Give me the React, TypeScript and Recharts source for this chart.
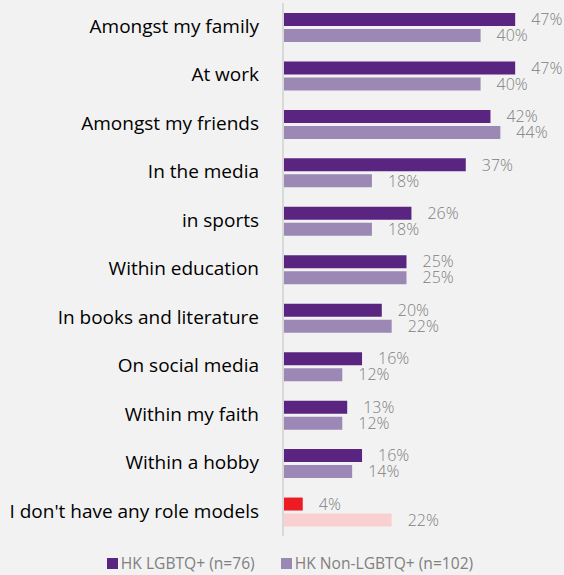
import { BarChart, Bar, XAxis, YAxis, Legend, LabelList, Cell } from "recharts";

document.body.style.margin = "0";

const categories = [
  "Amongst my family",
  "At work",
  "Amongst my friends",
  "In the media",
  "in sports",
  "Within education",
  "In books and literature",
  "On social media",
  "Within my faith",
  "Within a hobby",
  "I don't have any role models",
];
const lgbtq = [47, 47, 42, 37, 26, 25, 20, 16, 13, 16, 4];
const nonLgbtq = [40, 40, 44, 18, 18, 25, 22, 12, 12, 14, 22];

const seriesNames = ["HK LGBTQ+ (n=76)", "HK Non-LGBTQ+ (n=102)"];
const DARK = "#5a2580";
const LIGHT = "#9c88b5";
const NONE_DARK = "#ed1c24";
const NONE_LIGHT = "#f8d0d2";

const data = categories.map((name, i) => ({ name, lgbtq: lgbtq[i], non: nonLgbtq[i] }));

const font = "'Open Sans', Lato, sans-serif";

function LegendContent() {
  const items = [
    { label: seriesNames[0], color: DARK },
    { label: seriesNames[1], color: LIGHT },
  ];
  return (
    <div style={{ display: "flex", justifyContent: "center", gap: 26, paddingLeft: 50, fontFamily: font, fontSize: 15.6, color: "#808080" }}>
      {items.map((it) => (
        <div key={it.label} style={{ display: "flex", alignItems: "center", gap: 3 }}>
          <div style={{ width: 11, height: 11, background: it.color }} />
          <span>{it.label}</span>
        </div>
      ))}
    </div>
  );
}

const valueStyle = { fill: "#808080", fontSize: 16, fontFamily: font, fontWeight: 300 };

export default function App() {
  return (
    <div style={{ width: 564, height: 575, background: "#f2f2f2" }}>
      <BarChart
        width={564}
        height={575}
        data={data}
        layout="vertical"
        margin={{ top: 3, right: 34, bottom: 17, left: 0 }}
        barGap={3}
        barCategoryGap={10}
      >
        <XAxis type="number" domain={[0, 50]} hide />
        <YAxis
          type="category"
          dataKey="name"
          width={283}
          tickSize={0}
          tickMargin={24}
          axisLine={{ stroke: "#d9d9d9", strokeWidth: 2 }}
          tick={{ fill: "#000", fontSize: 19, fontFamily: font, dy: -1 }}
          interval={0}
        />
        <Legend verticalAlign="bottom" content={<LegendContent />} wrapperStyle={{ bottom: 1 }} />
        <Bar dataKey="lgbtq" name={seriesNames[0]} fill={DARK} isAnimationActive={false}>
          {data.map((d, i) => (
            <Cell key={d.name} fill={i === data.length - 1 ? NONE_DARK : DARK} />
          ))}
          <LabelList dataKey="lgbtq" position="right" offset={16} formatter={(v: number) => `${v}%`} style={valueStyle} />
        </Bar>
        <Bar dataKey="non" name={seriesNames[1]} fill={LIGHT} isAnimationActive={false}>
          {data.map((d, i) => (
            <Cell key={d.name} fill={i === data.length - 1 ? NONE_LIGHT : LIGHT} />
          ))}
          <LabelList dataKey="non" position="right" offset={16} formatter={(v: number) => `${v}%`} style={valueStyle} />
        </Bar>
      </BarChart>
    </div>
  );
}
